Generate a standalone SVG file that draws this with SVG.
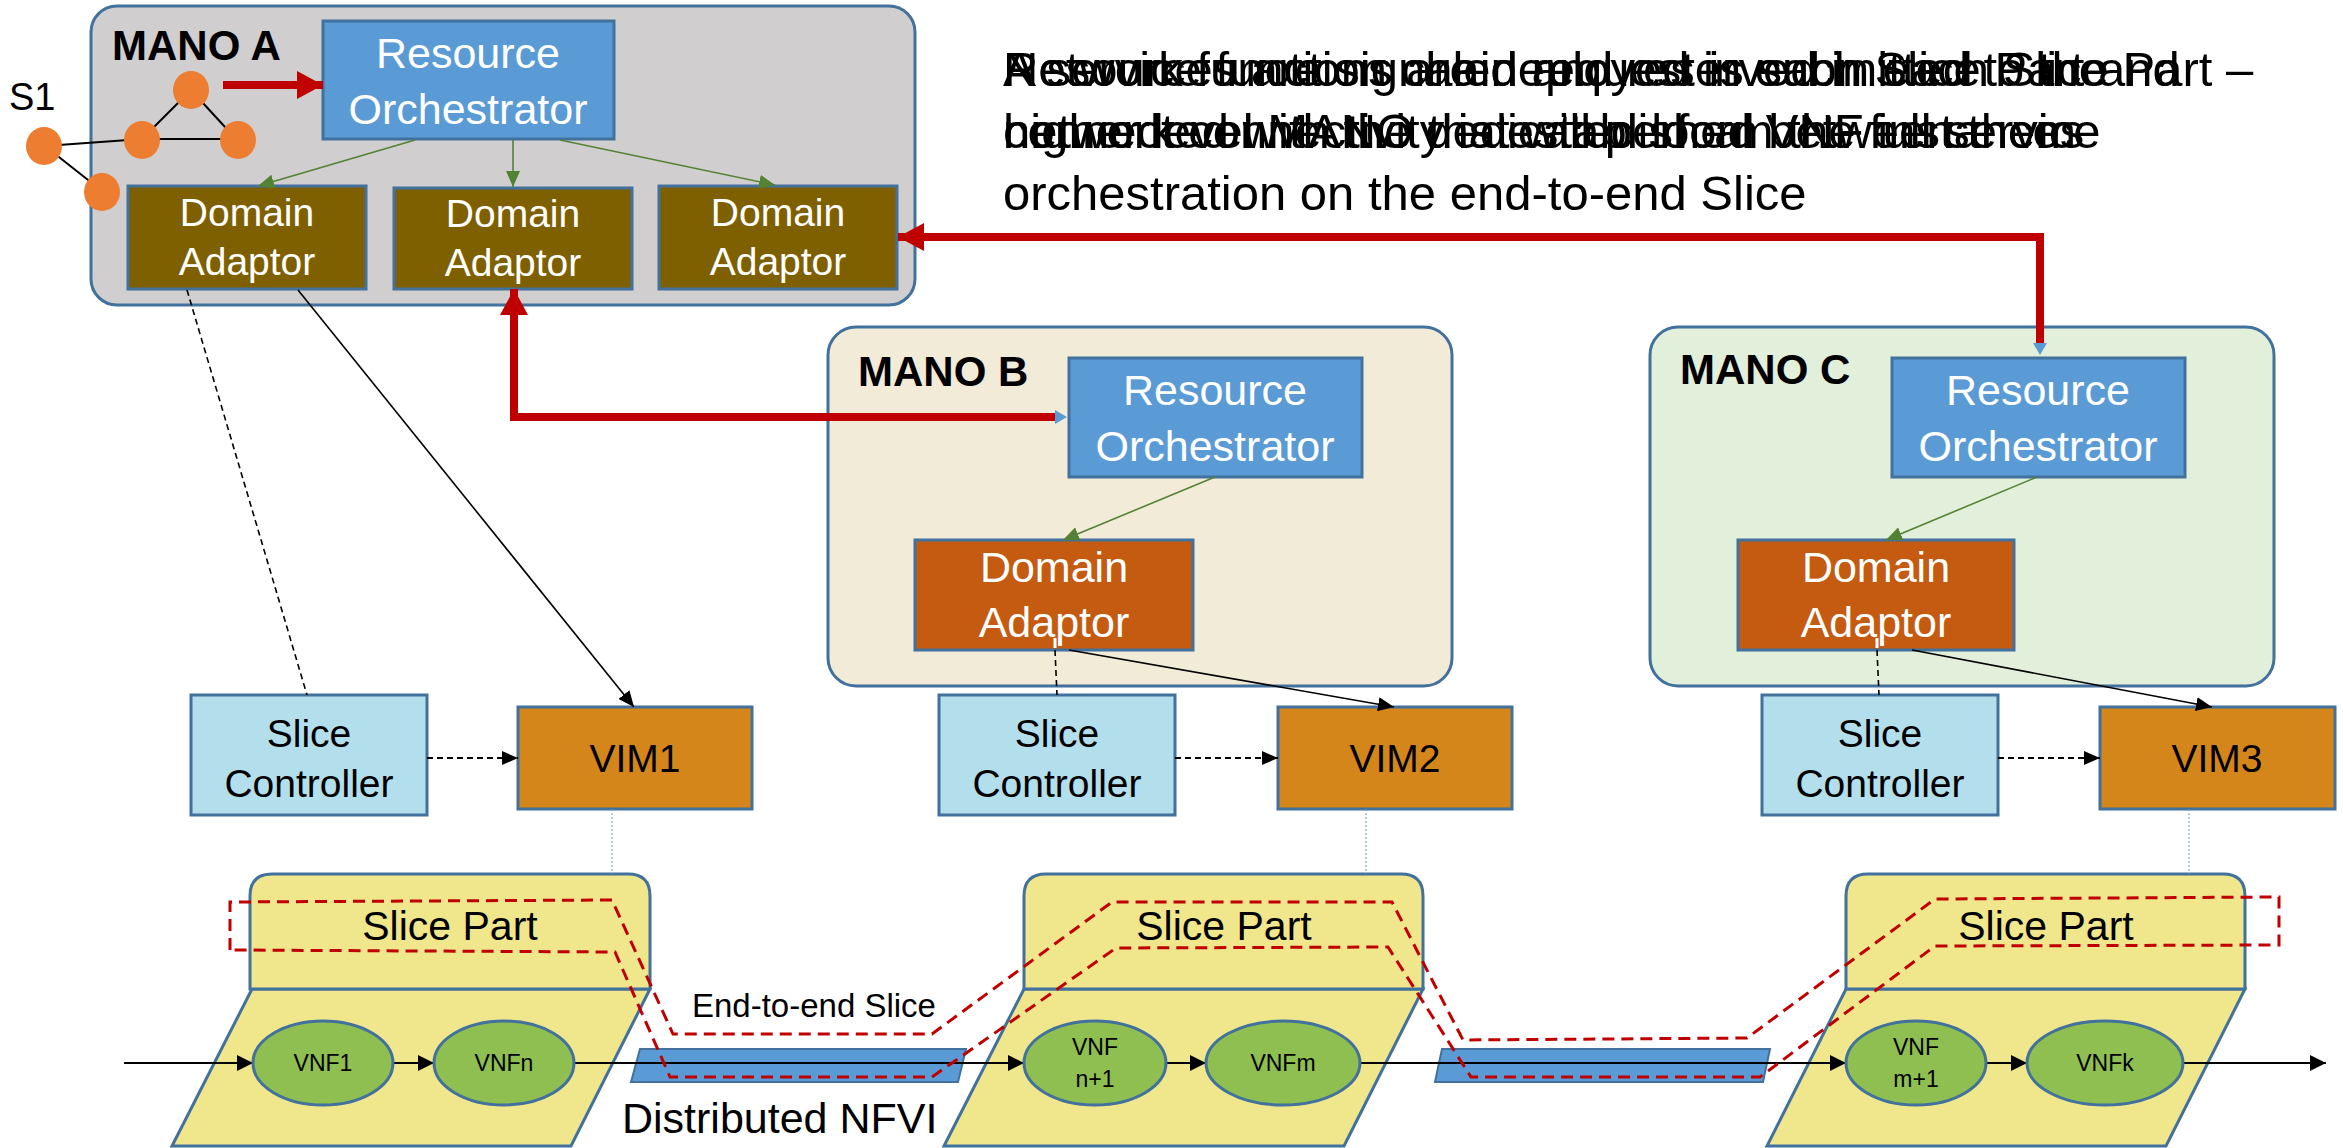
<svg xmlns="http://www.w3.org/2000/svg" width="2343" height="1148" viewBox="0 0 2343 1148">
<defs>
<style>
text{font-family:'Liberation Sans',Arial,sans-serif;}
.mano{stroke:#41719C;stroke-width:3;}
.box{stroke:#41719C;stroke-width:3;}
.ro{fill:#5B9BD5;}
.daA{fill:#7F6000;}
.daB{fill:#C55A11;}
.sc{fill:#B3DEEC;}
.vim{fill:#D4861A;}
.sp{fill:#F0E68C;stroke:#41719C;stroke-width:3;}
.vnf{fill:#8FBF50;stroke:#41719C;stroke-width:3;}
.link{fill:#5B9BD5;stroke:#41719C;stroke-width:2;}
.wt{fill:#fff;text-anchor:middle;}
.bt{fill:#000;text-anchor:middle;}
.title{font-weight:bold;fill:#000;font-size:42px;}
.green{stroke:#548235;stroke-width:1.6;fill:none;marker-end:url(#mg);}
.solid{stroke:#000;stroke-width:1.6;fill:none;marker-end:url(#mb);}
.dash{stroke:#000;stroke-width:1.6;fill:none;stroke-dasharray:6 4;}
.dasharr{stroke:#000;stroke-width:2;fill:none;stroke-dasharray:6 4;marker-end:url(#mb);}
.flow{stroke:#000;stroke-width:2;fill:none;marker-end:url(#mf);}
.red{stroke:#C00000;stroke-width:8;fill:none;marker-end:url(#mr);}
.dot{stroke:#5B9BD5;stroke-width:1;stroke-dasharray:2 2;fill:none;}
.top{font-size:49px;fill:#000;}
</style>
<marker id="mg" viewBox="0 0 16 14" refX="16" refY="7" markerWidth="16" markerHeight="14" orient="auto" markerUnits="userSpaceOnUse"><path d="M0,0 L16,7 L0,14 z" fill="#548235"/></marker>
<marker id="mb" viewBox="0 0 16 14" refX="16" refY="7" markerWidth="16" markerHeight="14" orient="auto" markerUnits="userSpaceOnUse"><path d="M0,0 L16,7 L0,14 z" fill="#000"/></marker>
<marker id="mf" viewBox="0 0 16 16" refX="16" refY="8" markerWidth="16" markerHeight="16" orient="auto" markerUnits="userSpaceOnUse"><path d="M0,0 L16,8 L0,16 z" fill="#000"/></marker>
<marker id="mr" viewBox="0 0 26 28" refX="26" refY="14" markerWidth="26" markerHeight="28" orient="auto" markerUnits="userSpaceOnUse"><path d="M0,0 L26,14 L0,28 z" fill="#C00000"/></marker>
</defs>
<rect width="2343" height="1148" fill="#fff"/>

<!-- MANO containers -->
<g id="mano-a"><rect class="mano" x="91" y="6" width="824" height="299" rx="26" fill="#D0CECE"/><text class="title" x="112" y="60">MANO A</text></g>
<g id="mano-b"><rect class="mano" x="828" y="327" width="624" height="359" rx="28" fill="#F2EBD8"/><text class="title" x="858" y="386">MANO B</text></g>
<g id="mano-c"><rect class="mano" x="1650" y="327" width="624" height="359" rx="28" fill="#E2EFDA"/><text class="title" x="1680" y="384">MANO C</text></g>

<!-- Resource orchestrators -->
<g id="ro-a"><rect class="box ro" x="323" y="21" width="291" height="118"/><text class="wt" font-size="43" x="468" y="68">Resource</text><text class="wt" font-size="43" x="468" y="124">Orchestrator</text></g>
<g id="ro-b"><rect class="box ro" x="1069" y="358" width="293" height="119"/><text class="wt" font-size="43" x="1215" y="405">Resource</text><text class="wt" font-size="43" x="1215" y="461">Orchestrator</text></g>
<g id="ro-c"><rect class="box ro" x="1892" y="358" width="293" height="119"/><text class="wt" font-size="43" x="2038" y="405">Resource</text><text class="wt" font-size="43" x="2038" y="461">Orchestrator</text></g>

<!-- Domain adaptors -->
<g id="da-a1"><rect class="box daA" x="128" y="186" width="238" height="103"/><text class="wt" font-size="39" x="247" y="226">Domain</text><text class="wt" font-size="39" x="247" y="275">Adaptor</text></g>
<g id="da-a2"><rect class="box daA" x="394" y="188" width="238" height="101"/><text class="wt" font-size="39" x="513" y="227">Domain</text><text class="wt" font-size="39" x="513" y="276">Adaptor</text></g>
<g id="da-a3"><rect class="box daA" x="659" y="186" width="238" height="103"/><text class="wt" font-size="39" x="778" y="226">Domain</text><text class="wt" font-size="39" x="778" y="275">Adaptor</text></g>
<g id="da-b"><rect class="box daB" x="915" y="540" width="278" height="110"/><text class="wt" font-size="43" x="1054" y="582">Domain</text><text class="wt" font-size="43" x="1054" y="637">Adaptor</text></g>
<g id="da-c"><rect class="box daB" x="1738" y="540" width="276" height="110"/><text class="wt" font-size="43" x="1876" y="582">Domain</text><text class="wt" font-size="43" x="1876" y="637">Adaptor</text></g>

<!-- S1 graph -->
<g id="s1">
<text x="9" y="110" font-size="38" fill="#000">S1</text>
<g stroke="#000" stroke-width="2"><line x1="191" y1="90" x2="142" y2="139"/><line x1="191" y1="90" x2="236" y2="139"/><line x1="142" y1="139" x2="236" y2="139"/><line x1="45" y1="146" x2="142" y2="139"/><line x1="45" y1="146" x2="102" y2="191"/></g>
<g fill="#ED7D31"><ellipse cx="191" cy="90" rx="18" ry="19"/><ellipse cx="142" cy="140" rx="18" ry="19"/><ellipse cx="238" cy="140" rx="18" ry="19"/><ellipse cx="44" cy="146" rx="18" ry="19"/><ellipse cx="102" cy="192" rx="18" ry="19"/></g>
</g>

<!-- Slice controllers and VIMs -->
<g id="sc1"><rect class="box sc" x="191" y="695" width="236" height="120"/><text class="bt" font-size="39" x="309" y="747">Slice</text><text class="bt" font-size="39" x="309" y="797">Controller</text></g>
<g id="sc2"><rect class="box sc" x="939" y="695" width="236" height="120"/><text class="bt" font-size="39" x="1057" y="747">Slice</text><text class="bt" font-size="39" x="1057" y="797">Controller</text></g>
<g id="sc3"><rect class="box sc" x="1762" y="695" width="236" height="120"/><text class="bt" font-size="39" x="1880" y="747">Slice</text><text class="bt" font-size="39" x="1880" y="797">Controller</text></g>
<g id="vim1"><rect class="box vim" x="518" y="707" width="234" height="102"/><text class="bt" font-size="39" x="635" y="772">VIM1</text></g>
<g id="vim2"><rect class="box vim" x="1278" y="707" width="234" height="102"/><text class="bt" font-size="39" x="1395" y="772">VIM2</text></g>
<g id="vim3"><rect class="box vim" x="2100" y="707" width="235" height="102"/><text class="bt" font-size="39" x="2217" y="772">VIM3</text></g>

<!-- Slice parts / NFVI -->
<g id="sp1"><polygon class="sp" points="252,989 650,989 571,1146 172,1146"/><path class="sp" d="M250,989 V896 Q250,874 272,874 H628 Q650,874 650,896 V989 Z"/><text class="bt" font-size="41" x="450" y="940">Slice Part</text></g>
<g id="sp2"><polygon class="sp" points="1024,989 1423,989 1344,1146 944,1146"/><path class="sp" d="M1024,989 V896 Q1024,874 1046,874 H1401 Q1423,874 1423,896 V989 Z"/><text class="bt" font-size="41" x="1224" y="940">Slice Part</text></g>
<g id="sp3"><polygon class="sp" points="1846,989 2245,989 2166,1146 1767,1146"/><path class="sp" d="M1846,989 V896 Q1846,874 1868,874 H2223 Q2245,874 2245,896 V989 Z"/><text class="bt" font-size="41" x="2046" y="940">Slice Part</text></g>
<g id="link1"><polygon class="link" points="640,1049 966,1049 958,1082 631,1082"/></g>
<g id="link2"><polygon class="link" points="1442,1049 1770,1049 1763,1082 1435,1082"/></g>

<!-- connectors -->
<g id="connectors">
<path class="green" d="M415,140 L258,186"/>
<path class="green" d="M513,140 L513,187"/>
<path class="green" d="M560,140 L775,185"/>
<path class="green" d="M1215,477 L1063,540"/>
<path class="green" d="M2037,477 L1886,540"/>
<path class="dash" d="M187,290 L307,695"/>
<path class="solid" d="M298,290 L634,707"/>
<line x1="1055" y1="638" x2="1055" y2="648" stroke="#fff" stroke-width="3"/>
<line x1="1877" y1="638" x2="1877" y2="648" stroke="#fff" stroke-width="3"/>
<path class="dash" d="M1055,650 L1057,695"/>
<path class="solid" d="M1069,650 L1394,707"/>
<path class="dash" d="M1877,650 L1879,695"/>
<path class="solid" d="M1912,650 L2212,707"/>
<path class="dasharr" d="M427,758 L518,758"/>
<path class="dasharr" d="M1175,758 L1278,758"/>
<path class="dasharr" d="M1998,758 L2100,758"/>
<path class="dot" d="M612,809 V874"/>
<path class="dot" d="M1366,809 V874"/>
<path class="dot" d="M2189,809 V874"/>
<path class="red" d="M223,85 H323"/>
<path class="red" d="M2040,344 V237 H898"/>
<path class="red" d="M1058,417 H514 V289"/>
<polygon points="2033,343 2047,343 2040,355" fill="#5B9BD5"/>
<polygon points="1055,410 1055,424 1067,417" fill="#5B9BD5"/>
<path class="flow" d="M124,1063 H253"/>
<path class="flow" d="M393,1063 H434"/>
<path class="flow" d="M574,1063 H1024"/>
<path class="flow" d="M1166,1063 H1206"/>
<path class="flow" d="M1360,1063 H1846"/>
<path class="flow" d="M1986,1063 H2027"/>
<path class="flow" d="M2183,1063 H2326"/>
<path d="M230,950 L230,902 L612,900 L673,1034 L932,1034 L1112,902 L1392,902 L1463,1040 L1747,1038 L1935,899 L2279,897 L2279,945 L1935,946 L1760,1077 L1471,1077 L1388,947 L1116,948 L932,1077 L670,1077 L615,952 Z" fill="none" stroke="#C00000" stroke-width="3" stroke-dasharray="12 7"/>
</g>

<!-- VNFs -->
<g id="vnf1"><ellipse class="vnf" cx="323" cy="1063" rx="70" ry="42"/><text class="bt" font-size="23" x="323" y="1071">VNF1</text></g>
<g id="vnfn"><ellipse class="vnf" cx="504" cy="1063" rx="70" ry="42"/><text class="bt" font-size="23" x="504" y="1071">VNFn</text></g>
<g id="vnfn1"><ellipse class="vnf" cx="1095" cy="1063" rx="71" ry="42"/><text class="bt" font-size="23" x="1095" y="1055">VNF</text><text class="bt" font-size="23" x="1095" y="1087">n+1</text></g>
<g id="vnfm"><ellipse class="vnf" cx="1283" cy="1063" rx="77" ry="42"/><text class="bt" font-size="23" x="1283" y="1071">VNFm</text></g>
<g id="vnfm1"><ellipse class="vnf" cx="1916" cy="1063" rx="70" ry="42"/><text class="bt" font-size="23" x="1916" y="1055">VNF</text><text class="bt" font-size="23" x="1916" y="1087">m+1</text></g>
<g id="vnfk"><ellipse class="vnf" cx="2105" cy="1063" rx="78" ry="42"/><text class="bt" font-size="23" x="2105" y="1071">VNFk</text></g>

<!-- labels -->
<g id="labels">
<text x="692" y="1017" font-size="33" fill="#000">End-to-end Slice</text>
<text x="622" y="1133" font-size="43" fill="#000">Distributed NFVI</text>
</g>

<!-- overlapping description text -->
<g id="description">
<text class="top" x="1003" y="86">A service function chain request is submitted to the</text>
<text class="top" x="1003" y="86">Resources are signaled and reserved in each Slice Part –</text>
<text class="top" x="1003" y="86">Network functions are deployed in each Slice Part and</text>
<text class="top" x="1003" y="148">higher level MANO that will perform the full service</text>
<text class="top" x="1003" y="148">network connectivity is established between them</text>
<text class="top" x="1003" y="148">connected with the dedicated local VNF instances</text>
<text class="top" x="1003" y="210">orchestration on the end-to-end Slice</text>
</g>
</svg>
